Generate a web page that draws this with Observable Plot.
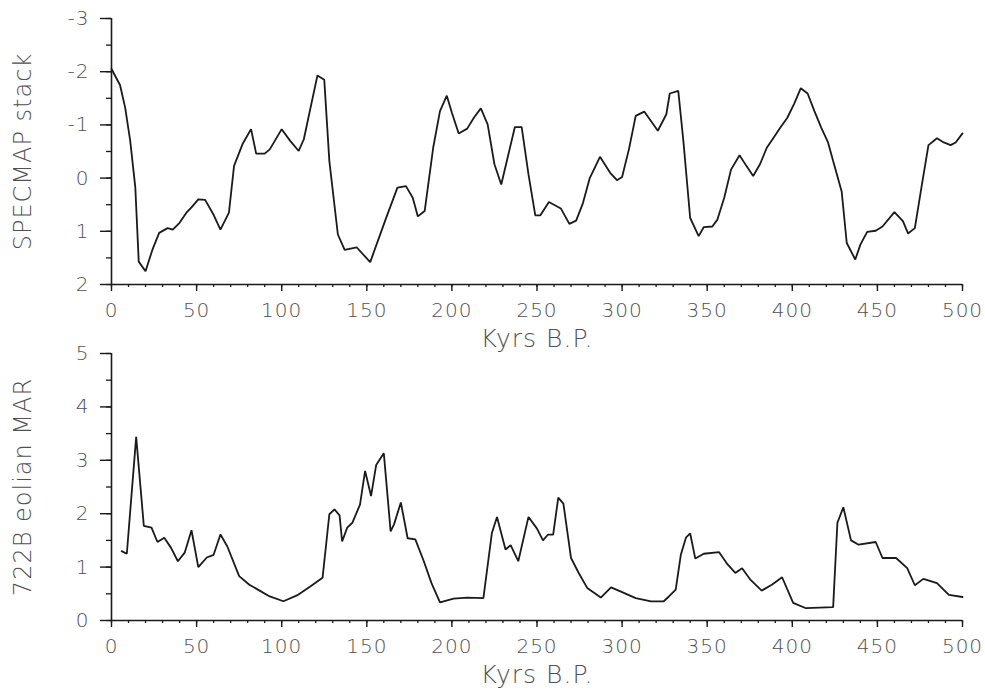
<!DOCTYPE html>
<html><head><meta charset="utf-8">
<script src="https://cdn.jsdelivr.net/npm/d3@7"></script>
<script src="https://cdn.jsdelivr.net/npm/@observablehq/plot@0.6"></script>
<style>
body{margin:0;background:#fff;}
#wrap{position:relative;width:985px;height:691px;background:#fff;}
#wrap > div{position:absolute;left:0;}
#wrap svg{overflow:visible;}
#wrap text{letter-spacing:1px;font-weight:200;}
</style></head><body><div id="wrap"><div id="top" style="top:0"></div><div id="bot" style="top:320px"></div></div>
<script>
// X axis
const xTicks = [0, 50, 100, 150, 200, 250, 300, 350, 400, 450, 500];
const xMinor = d3.range(0, 501, 10);
const xLabel = "Kyrs B.P.";

// Top panel: SPECMAP stack
const specLabel = "SPECMAP stack";
const specTicks = [-3, -2, -1, 0, 1, 2];
const specMinor = [-3, -2.5, -2, -1.5, -1, -0.5, 0, 0.5, 1, 1.5, 2];
const specAge = [0,5,8,11,14,16,20,24,28,33,36,40,44,47,51,55,60,64,69,72,77,82,85,90,93,100,105,110,113,121,125,128,133,137,144,152,161,168,173,177,180,184,189,193,197,200,204,209,213,217,221,225,229,233,237,241,245,249,252,257,264,269,273,277,281,287,293,297,300,304,308,313,321,326,328,333,336,340,345,348,353,356,360,364,369,373,377,381,385,389,393,397,401,405,409,413,417,421,424,429,432,437,440,444,449,453,460,465,468,472,476,480,485,489,493,496,500];
const specVal = [-2.05,-1.75,-1.33,-0.70,0.18,1.57,1.75,1.35,1.03,0.94,0.97,0.84,0.65,0.55,0.40,0.41,0.69,0.97,0.65,-0.23,-0.64,-0.92,-0.46,-0.46,-0.54,-0.92,-0.70,-0.51,-0.73,-1.93,-1.85,-0.32,1.06,1.35,1.30,1.58,0.78,0.18,0.15,0.37,0.72,0.62,-0.57,-1.26,-1.55,-1.23,-0.84,-0.93,-1.14,-1.31,-1.01,-0.26,0.12,-0.42,-0.96,-0.96,-0.07,0.70,0.70,0.45,0.57,0.86,0.80,0.47,0.00,-0.40,-0.10,0.04,-0.02,-0.54,-1.17,-1.25,-0.89,-1.20,-1.59,-1.64,-0.70,0.75,1.09,0.92,0.91,0.78,0.37,-0.16,-0.43,-0.23,-0.04,-0.26,-0.57,-0.76,-0.95,-1.13,-1.39,-1.69,-1.59,-1.26,-0.95,-0.67,-0.32,0.25,1.22,1.53,1.25,1.01,0.99,0.91,0.64,0.81,1.04,0.94,0.15,-0.62,-0.75,-0.67,-0.62,-0.67,-0.84];

// Bottom panel: 722B eolian MAR
const marLabel = "722B eolian MAR";
const marTicks = [0, 1, 2, 3, 4, 5];
const marMinor = [0, 0.5, 1, 1.5, 2, 2.5, 3, 3.5, 4, 4.5, 5];
const marAge = [6,9,14.5,19,23.5,27,31,35,39,43,47,51,56,60,64,68,75,81,87,93,101,109,117,124,128,131,134,135.5,138.5,141.5,146,149,152.5,155.5,160,164,166,170,174,178.5,183.5,188,193,201,209,218.5,223.5,226.5,231.5,234.5,239,245,250,253.5,256.5,259.5,262.5,265.5,270,274.5,279.5,287.5,293.5,300,308,317,324.5,327.5,331.5,334.5,337.5,340,343,348,357,362,366.5,370.5,375.5,382,388,394,400.5,408,424,426.5,430,434.5,439,449,453,461,467.5,472,477,485,492,500];
const marVal = [1.30,1.25,3.44,1.77,1.74,1.47,1.55,1.36,1.11,1.27,1.69,1.00,1.18,1.23,1.61,1.39,0.83,0.67,0.56,0.45,0.36,0.47,0.64,0.80,1.99,2.08,1.97,1.48,1.74,1.83,2.17,2.80,2.33,2.91,3.13,1.67,1.80,2.21,1.54,1.52,1.11,0.70,0.34,0.41,0.43,0.42,1.64,1.94,1.33,1.41,1.11,1.94,1.72,1.50,1.61,1.61,2.30,2.19,1.17,0.89,0.61,0.43,0.62,0.53,0.42,0.36,0.36,0.45,0.58,1.23,1.55,1.63,1.16,1.25,1.28,1.05,0.89,0.98,0.76,0.56,0.67,0.81,0.33,0.23,0.25,1.83,2.12,1.50,1.42,1.47,1.17,1.17,0.98,0.66,0.78,0.70,0.48,0.44];

const TXT = "#505050", INK = "#1a1a1a";
const fmt = d => String(d);

function panel({ages, vals, yDomain, yTicks, yMinor, yLabel, height, marginTop, marginBottom, yBase}) {
  const data = ages.map((a, i) => ({age: a, v: vals[i]}));
  return Plot.plot({
    width: 985, height, marginLeft: 111, marginRight: 23, marginTop, marginBottom,
    style: {background: "transparent", overflow: "visible", fontFamily: "'DejaVu Sans', sans-serif"},
    x: {domain: [0, 500]},
    y: {domain: yDomain},
    marks: [
      Plot.axisX({ticks: xMinor, tickSize: 3, tickFormat: null, text: null, stroke: INK, strokeWidth: 1.3, label: null}),
      Plot.axisX({ticks: xTicks, tickSize: 7, tickPadding: 11, tickFormat: fmt, fontSize: 20, fill: TXT, stroke: INK, strokeWidth: 1.4, label: null}),
      Plot.axisY({ticks: yMinor, tickSize: 5, tickFormat: null, text: null, stroke: INK, strokeWidth: 1.3, label: null}),
      Plot.axisY({ticks: yTicks, tickSize: 11, tickPadding: 11, tickFormat: fmt, fontSize: 20, fill: TXT, stroke: INK, strokeWidth: 1.4, label: null}),
      Plot.ruleY([yBase], {stroke: INK, strokeWidth: 1.6}),
      Plot.ruleX([0], {stroke: INK, strokeWidth: 1.6}),
      Plot.line(data, {x: "age", y: "v", stroke: INK, strokeWidth: 1.8, strokeLinejoin: "miter"}),
      Plot.text([xLabel], {text: d => d, frameAnchor: "bottom", dy: 62, fontSize: 25, fill: TXT}),
      Plot.text([yLabel], {text: d => d, frameAnchor: "left", textAnchor: "middle", dx: -88, rotate: -90, fontSize: 24, fill: TXT})
    ]
  });
}

document.getElementById("top").append(panel({
  ages: specAge, vals: specVal, yDomain: [2, -3], yTicks: specTicks, yMinor: specMinor,
  yLabel: specLabel, height: 320, marginTop: 18, marginBottom: 36, yBase: 2
}));
document.getElementById("bot").append(panel({
  ages: marAge, vals: marVal, yDomain: [0, 5], yTicks: marTicks, yMinor: marMinor,
  yLabel: marLabel, height: 371, marginTop: 33, marginBottom: 71, yBase: 0
}));
</script></body></html>
